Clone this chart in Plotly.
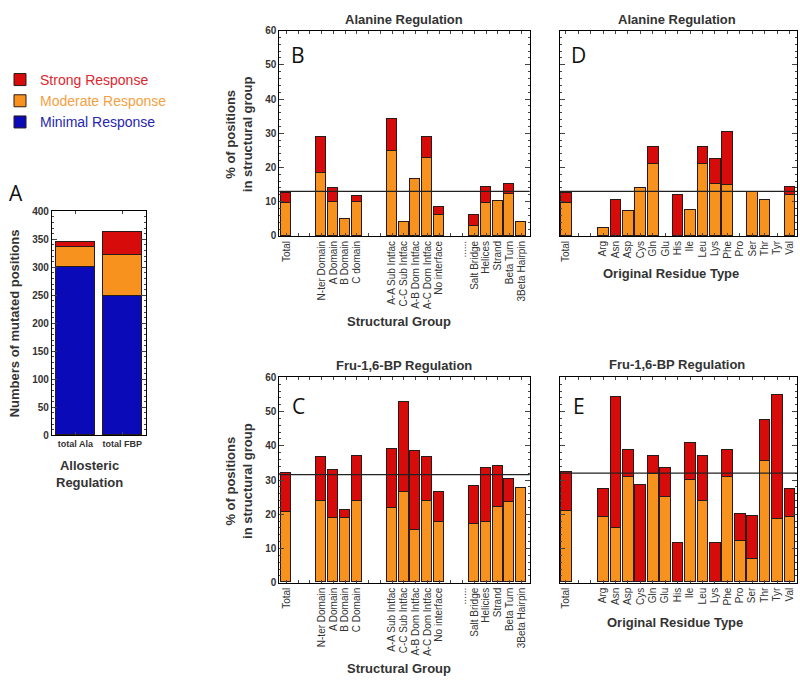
import plotly.graph_objects as go

W, H = 800, 686

# ---------------- data ----------------
A_categories = ["total Ala", "total FBP"]
A_minimal = [300, 248]
A_moderate = [35, 74]
A_strong = [9, 40]

struct_labels_B = ["Total", "", "", "N-ter Domain", "A Domain", "B Domain", "C domain", "", "",
                   "A-A Sub Intfac", "C-C Sub Intfac", "A-B Dom Intfac", "A-C Dom Intfac", "No interface",
                   "", "......", "Salt Bridge", "Helices", "Strand", "Beta Turn", "3Beta Hairpin"]
struct_labels_C = ["Total", "", "", "N-ter Domain", "A Domain", "B Domain", "C Domain", "", "",
                   "A-A Sub Intfac", "C-C Sub Intfac", "A-B Dom Intfac", "A-C Dom Intfac", "No interface",
                   "", "......", "Salt Bridge", "Helicies", "Strand", "Beta Turn", "3Beta Hairpin"]
residue_labels = ["Total", "", "", "Arg", "Asn", "Asp", "Cys", "Gln", "Glu", "His", "Ile", "Leu",
                  "Lys", "Phe", "Pro", "Ser", "Thr", "Tyr", "Val"]

# Alanine regulation, structural group (panel B)
B_moderate = [9.8, None, None, 18.4, 10.0, 5.0, 10.0, None, None, 24.9, 4.3, 16.7, 22.8, 6.1,
              None, None, 3.0, 9.6, 10.4, 12.3, 4.3]
B_strong = [3.0, None, None, 10.5, 4.0, None, 1.7, None, None, 9.5, None, None, 6.1, 2.4,
            None, None, 3.2, 4.8, None, 3.0, None]
B_ref = 13.0

# Fru-1,6-BP regulation, structural group (panel C)
C_moderate = [20.7, None, None, 23.9, 18.8, 18.8, 23.9, None, None, 21.6, 26.3, 15.2, 23.9, 17.6,
              None, None, 17.1, 17.5, 22.1, 23.5, 27.7]
C_strong = [11.2, None, None, 12.8, 14.1, 2.4, 13.1, None, None, 17.3, 26.3, 23.1, 12.8, 8.8,
            None, None, 11.1, 16.0, 12.0, 6.7, None]
C_ref = 31.6

# Alanine regulation, residue type (panel D)
D_moderate = [9.6, None, None, 2.3, None, 7.3, 14.1, 21.0, None, None, 7.8, 21.0, 15.3, 15.0,
              None, 12.9, 10.7, None, 12.2]
D_strong = [3.2, None, None, None, 10.7, None, None, 5.0, None, 12.1, None, 5.0, 7.4, 15.5,
            None, None, None, None, 2.2]
D_ref = 13.0

# Fru-1,6-BP regulation, residue type (panel E)
E_moderate = [20.9, None, None, 19.1, 15.8, 30.8, None, 31.7, 25.0, None, 30.0, 23.9, None, 30.8,
              12.0, 6.8, 35.4, 18.5, 19.0]
E_strong = [11.2, None, None, 8.1, 38.4, 7.8, 28.5, 5.3, 8.4, 11.4, 10.8, 13.1, 11.4, 7.8,
            8.0, 12.7, 12.0, 36.3, 8.2]
E_ref = 32.0

RED = "#d80b0b"
ORANGE = "#f7921e"
BLUE = "#0a0ab8"
EDGE = "#2a1a1a"
FONT = "Liberation Sans, Arial, sans-serif"


def px_x(x0, x1):
    return [x0 / W, x1 / W]


def px_y(y0, y1):
    return [1 - y1 / H, 1 - y0 / H]


fig = go.Figure()

# ---------------- panel A ----------------
for name, vals, col, txtcol in [("Minimal Response", A_minimal, BLUE, "#2626b0"),
                                ("Moderate Response", A_moderate, ORANGE, "#f5a042"),
                                ("Strong Response", A_strong, RED, "#e0262e")]:
    fig.add_trace(go.Bar(x=A_categories, y=vals, name=f"<span style='color:{txtcol}'>{name}</span>",
                         marker=dict(color=col, line=dict(color=EDGE, width=1)), width=0.82,
                         xaxis="x", yaxis="y", showlegend=True))


def add_panel(xa, ya, moderate, strong):
    xs = list(range(len(moderate)))
    fig.add_trace(go.Bar(x=xs, y=moderate, marker=dict(color=ORANGE, line=dict(color=EDGE, width=1)),
                         width=0.86, xaxis=xa, yaxis=ya, showlegend=False))
    fig.add_trace(go.Bar(x=xs, y=strong, marker=dict(color=RED, line=dict(color=EDGE, width=1)),
                         width=0.86, xaxis=xa, yaxis=ya, showlegend=False))


add_panel("x2", "y2", B_moderate, B_strong)
add_panel("x3", "y3", D_moderate, D_strong)
add_panel("x4", "y4", C_moderate, C_strong)
add_panel("x5", "y5", E_moderate, E_strong)

tickfont = dict(family=FONT, size=10, color="#333333", weight="bold")
xtickfont = dict(family=FONT, size=10, color="#333333")

common_axis = dict(showline=True, linecolor="black", linewidth=1, mirror="ticks",
                   ticks="inside", showgrid=False, zeroline=False)

fig.update_layout(
    width=W, height=H, margin=dict(l=0, r=0, t=0, b=0),
    paper_bgcolor="white", plot_bgcolor="white", barmode="stack", bargap=0,
    font=dict(family=FONT),
    showlegend=True,
    legend=dict(x=-0.003, y=1 - 59 / H, xanchor="left", yanchor="top", traceorder="reversed",
                font=dict(family=FONT, size=14), bgcolor="rgba(0,0,0,0)", itemwidth=30,
                tracegroupgap=0),
    xaxis=dict(domain=px_x(50, 144), range=[-0.5, 1.5], tickfont=dict(family=FONT, size=9, color="#333333", weight="bold"),
               ticklen=3, **common_axis),
    yaxis=dict(domain=px_y(209, 437), range=[0, 400], dtick=50, ticklen=5, tickfont=tickfont,
               minor=dict(ticks="inside", ticklen=2, dtick=10), **common_axis),
    xaxis2=dict(domain=px_x(278, 529), range=[-0.6, 20.7], tickmode="array",
                tickvals=list(range(len(struct_labels_B))), ticktext=struct_labels_B, tickangle=-90,
                tickfont=xtickfont, ticklen=3, anchor="y2", **common_axis),
    yaxis2=dict(domain=px_y(25, 234), range=[0, 60], dtick=10, ticklen=5, tickfont=tickfont,
                minor=dict(ticks="inside", ticklen=2, dtick=2), anchor="x2", **common_axis),
    xaxis3=dict(domain=px_x(559, 797), range=[-0.5, 18.6], tickmode="array",
                tickvals=list(range(len(residue_labels))), ticktext=residue_labels, tickangle=-90,
                tickfont=xtickfont, ticklen=3, anchor="y3", **common_axis),
    yaxis3=dict(domain=px_y(25, 234), range=[0, 60], dtick=10, ticklen=5, showticklabels=False,
                minor=dict(ticks="inside", ticklen=2, dtick=2), anchor="x3", **common_axis),
    xaxis4=dict(domain=px_x(278, 529), range=[-0.6, 20.7], tickmode="array",
                tickvals=list(range(len(struct_labels_C))), ticktext=struct_labels_C, tickangle=-90,
                tickfont=xtickfont, ticklen=3, anchor="y4", **common_axis),
    yaxis4=dict(domain=px_y(378, 587), range=[0, 60], dtick=10, ticklen=5, tickfont=tickfont,
                minor=dict(ticks="inside", ticklen=2, dtick=2), anchor="x4", **common_axis),
    xaxis5=dict(domain=px_x(559, 797), range=[-0.5, 18.6], tickmode="array",
                tickvals=list(range(len(residue_labels))), ticktext=residue_labels, tickangle=-90,
                tickfont=xtickfont, ticklen=3, anchor="y5", **common_axis),
    yaxis5=dict(domain=px_y(378, 587), range=[0, 60], dtick=10, ticklen=5, showticklabels=False,
                minor=dict(ticks="inside", ticklen=2, dtick=2), anchor="x5", **common_axis),
)

# reference lines (overall totals)
for xa, ya, v in [("x2", "y2", B_ref), ("x3", "y3", D_ref), ("x4", "y4", C_ref), ("x5", "y5", E_ref)]:
    fig.add_shape(type="line", xref=f"{xa} domain", yref=ya, x0=0, x1=1, y0=v, y1=v,
                  line=dict(color="#222222", width=1.3))


def ann(text, x, y, size=13, bold=True, angle=0, color="#333333", family=FONT, xanchor="center"):
    fig.add_annotation(text=text, x=x / W, y=1 - y / H, xref="paper", yref="paper",
                       showarrow=False, textangle=angle, xanchor=xanchor, yanchor="middle",
                       font=dict(family=family, size=size, color=color, weight="bold" if bold else "normal"))


# panel titles
ann("Alanine Regulation", 403, 14, size=13)
ann("Alanine Regulation", 677, 14, size=13)
ann("Fru-1,6-BP Regulation", 403, 366, size=13)
ann("Fru-1,6-BP Regulation", 677, 365, size=13)

# axis titles
ann("% of positions<br>in structural group", 237, 130, size=13, angle=-90)
ann("% of positions<br>in structural group", 237, 483, size=13, angle=-90)
ann("Structural Group", 398, 321, size=13)
ann("Structural Group", 398, 674, size=13)
ann("Original Residue Type", 671, 272, size=13)
ann("Original Residue Type", 675, 627, size=13)
ann("Numbers of mutated positions", 12, 323, size=13, angle=-90)
ann("Allosteric<br>Regulation", 88, 476, size=13)

# panel letters
for letter, x, y in [("A", 14, 190), ("B", 297, 50), ("C", 297, 407), ("D", 578, 50), ("E", 578, 407)]:
    ann(letter, x, y, size=21, bold=False, color="#111111", family="Open Sans, Liberation Sans, sans-serif")

fig.write_html("out.html", config={"displayModeBar": False},
               post_script="document.body.style.margin='0';document.body.style.overflow='hidden';")
